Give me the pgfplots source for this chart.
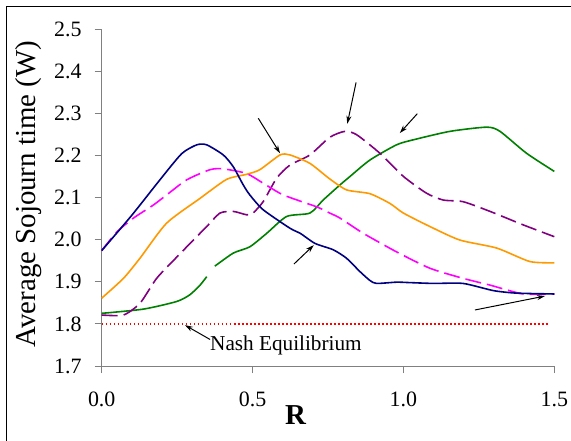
\documentclass[border=0pt]{standalone}
\usepackage{pgfplots}
\pgfplotsset{compat=1.18}
\usepackage{fontspec}
\setmainfont{Liberation Serif}
\usetikzlibrary{arrows.meta}

\definecolor{cnavy}{RGB}{0,0,128}
\definecolor{cmag}{RGB}{255,0,255}
\definecolor{corange}{RGB}{255,153,0}
\definecolor{cpurple}{RGB}{128,0,128}
\definecolor{cgreen}{RGB}{0,128,0}
\definecolor{caxis}{RGB}{128,128,128}

\pgfplotstableread{
x y
0.000 1.974
0.100 2.058
0.193 2.142
0.265 2.204
0.315 2.225
0.348 2.225
0.403 2.201
0.436 2.173
0.469 2.130
0.491 2.106
0.535 2.071
0.624 2.027
0.658 2.015
0.707 1.991
0.767 1.976
0.811 1.956
0.856 1.924
0.889 1.903
0.911 1.896
0.977 1.899
1.020 1.898
1.100 1.896
1.198 1.896
1.298 1.879
1.375 1.873
1.500 1.871
}\blueser

\pgfplotstableread{
x y
0.000 1.974
0.050 2.018
0.105 2.051
0.171 2.082
0.215 2.106
0.282 2.142
0.359 2.166
0.403 2.168
0.480 2.157
0.535 2.134
0.602 2.106
0.712 2.078
0.756 2.063
0.790 2.051
0.867 2.015
0.977 1.971
1.088 1.932
1.198 1.908
1.287 1.892
1.397 1.871
1.500 1.871
}\magser

\pgfplotstableread{
x y
0.000 1.861
0.072 1.908
0.127 1.956
0.215 2.039
0.326 2.098
0.414 2.143
0.480 2.155
0.524 2.166
0.591 2.201
0.624 2.201
0.690 2.181
0.756 2.144
0.812 2.118
0.889 2.109
0.955 2.086
1.000 2.063
1.088 2.031
1.187 1.999
1.309 1.980
1.419 1.948
1.500 1.945
}\orangeser

\pgfplotstableread{
x y
0.000 1.821
0.072 1.821
0.127 1.849
0.182 1.908
0.248 1.958
0.315 2.007
0.348 2.031
0.392 2.063
0.436 2.067
0.480 2.059
0.500 2.062
0.535 2.090
0.580 2.146
0.624 2.177
0.690 2.201
0.756 2.243
0.806 2.257
0.845 2.249
0.922 2.205
1.000 2.150
1.077 2.110
1.132 2.094
1.198 2.090
1.287 2.067
1.397 2.035
1.500 2.007
}\purpleser

\pgfplotstableread{
x y
0.000 1.825
0.138 1.835
0.248 1.853
0.292 1.869
0.326 1.892
0.348 1.912
}\greenserA

\pgfplotstableread{
x y
0.375 1.937
0.436 1.968
0.491 1.983
0.547 2.015
0.613 2.055
0.690 2.063
0.734 2.094
0.790 2.130
0.823 2.150
0.889 2.189
0.977 2.225
1.033 2.237
1.154 2.257
1.276 2.267
1.320 2.257
1.408 2.205
1.500 2.162
}\greenserB

\begin{document}
\begin{tikzpicture}
\useasboundingbox (-101.7bp,-75bp) rectangle (469.3bp,366bp);
% chart area frame
\draw[black, line width=0.8bp] (-95bp,-80bp) -- (-95bp,359.3bp) -- (480bp,359.3bp);
\begin{axis}[
  at={(0,0)}, anchor=south west,
  scale only axis, width=452.6bp, height=337bp,
  xmin=0, xmax=1.5, ymin=1.7, ymax=2.5,
  axis x line=bottom, axis y line=left,
  x axis line style={-}, y axis line style={-},
  axis line style={draw=caxis, line width=1bp},
  xtick={0,0.5,1,1.5}, ytick={1.7,1.8,...,2.5},
  tick align=outside, major tick length=7bp,
  tick style={draw=caxis, line width=1bp},
  minor tick num=0,
  /pgf/number format/assume math mode=true,
  /pgf/number format/fixed,
  /pgf/number format/fixed zerofill,
  /pgf/number format/precision=1,
  every tick label/.append style={font=\fontsize{22}{26}\selectfont, inner sep=0pt},
  yticklabel style={xshift=-13bp},
  xticklabel style={yshift=-19bp},
  clip=false,
]
\addplot[red, line width=1.6bp, dash pattern=on 1.8bp off 2.2bp] coordinates {(0,1.8) (1.48,1.8)};
\addplot[cgreen, line width=1.6bp, smooth, tension=0.4] table {\greenserA};
\addplot[cgreen, line width=1.6bp, smooth, tension=0.4] table {\greenserB};
\addplot[cpurple, line width=1.6bp, dash pattern=on 16bp off 6bp, smooth, tension=0.4] table {\purpleser};
\addplot[corange, line width=1.6bp, smooth, tension=0.4] table {\orangeser};
\addplot[cmag, line width=1.6bp, dash pattern=on 16bp off 6bp, smooth, tension=0.4] table {\magser};
\addplot[cnavy, line width=1.6bp, smooth, tension=0.4] table {\blueser};

% pointers to the curves
\begin{scope}[line width=1bp, -{Stealth[length=8bp,width=5bp]}]
\draw (axis cs:0.519,2.288) -- (axis cs:0.591,2.205);
\draw (axis cs:0.843,2.373) -- (axis cs:0.814,2.275);
\draw (axis cs:1.046,2.299) -- (axis cs:0.988,2.253);
\draw (axis cs:0.637,1.942) -- (axis cs:0.703,1.987);
\draw (axis cs:1.237,1.833) -- (axis cs:1.469,1.866);
\draw (axis cs:0.359,1.763) -- (axis cs:0.276,1.797);
\end{scope}
\end{axis}
\node[anchor=base west, inner sep=0pt, font=\fontsize{21.3}{25}\selectfont] at (108.3bp,16bp) {Nash Equilibrium};
\node[anchor=center, inner sep=0pt, font=\fontsize{29}{34}\selectfont\bfseries] at (193.8bp,-49bp) {R};
\node[anchor=base, rotate=90, inner sep=0pt, font=\fontsize{29}{34}\selectfont] at (-65.7bp,172bp) {Average Sojourn time (W)};
\end{tikzpicture}
\end{document}
